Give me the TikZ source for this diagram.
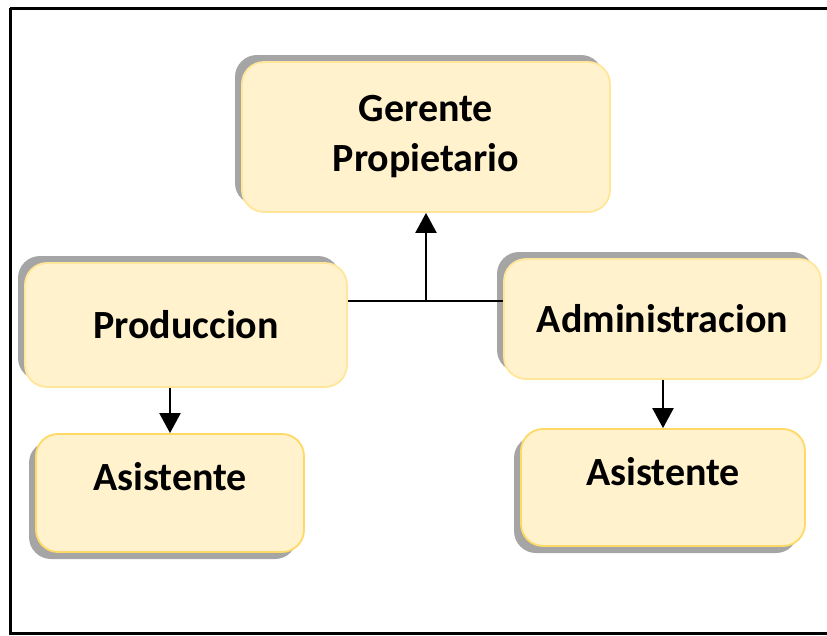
\documentclass[tikz,border=0pt]{standalone}
\usepackage{fontspec}
\setmainfont{Carlito}
\usepackage{tikz}
\usetikzlibrary{arrows.meta,shapes,positioning,shadows}
\usepackage{xcolor}
\definecolor{orgfill}{RGB}{255,242,204}
\definecolor{orgedge}{RGB}{255,230,153}
\definecolor{orgedgedark}{RGB}{255,217,102}
\definecolor{orgshadow}{RGB}{165,165,165}
\tikzstyle{arrow} = [line width=2.2pt,-{Triangle[width=21pt,length=20pt]}]
\tikzstyle{link} = [line width=2.2pt]
\tikzstyle{orgbase} = [rectangle, rounded corners=22pt, text centered, fill=orgfill, line width=1.8pt, font=\fontsize{40}{50}\selectfont\bfseries, align=center]
\tikzstyle{orgbox} = [orgbase, draw=orgedge, drop shadow={shadow xshift=-7pt, shadow yshift=7pt, fill=orgshadow, opacity=1}]
\tikzstyle{subbox} = [orgbase, draw=orgedgedark, text height=26pt, text depth=31pt, drop shadow={shadow xshift=-7pt, shadow yshift=-7pt, fill=orgshadow, opacity=1}]

\begin{document}
\begin{tikzpicture}[x=1pt, y=-1pt]
\useasboundingbox (0,0) rectangle (827,635);
% Frame
\draw[line width=3pt] (10,8) -- (840,8);
\draw[line width=3pt] (10,8) -- (10,633.5) -- (840,633.5);

% Boxes
\node[orgbox, minimum width=368pt, minimum height=150pt] (gerente) at (426,137) {Gerente\\Propietario};
\node[orgbox, minimum width=322pt, minimum height=124pt] (produccion) at (186,325) {Produccion};
\node[orgbox, minimum width=317pt, minimum height=120pt] (admin) at (662.5,319) {Administracion};
\node[subbox, minimum width=268pt, minimum height=118pt] (asistprod) at (170,493) {Asistente};
\node[subbox, minimum width=284pt, minimum height=117pt] (asistadmin) at (663,487.5) {Asistente};

% Connectors
\coordinate (hub) at (426,301);
\draw[link] (produccion.east |- hub) -- (admin.west |- hub);
\draw[arrow] (hub) -- (gerente.south);
\draw[arrow] (asistprod.north |- produccion.south) -- (asistprod.north);
\draw[arrow] (asistadmin.north |- admin.south) -- (asistadmin.north);
\end{tikzpicture}
\end{document}
